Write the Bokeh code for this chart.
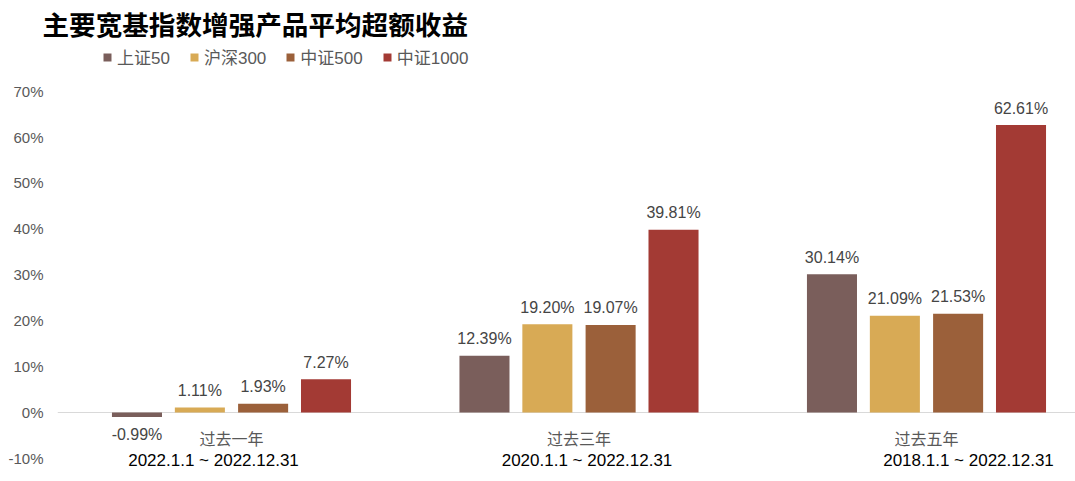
from bokeh.plotting import figure
from bokeh.models import ColumnDataSource, Legend, LegendItem, Span, Title, FixedTicker, NumeralTickFormatter
from bokeh.transform import dodge
from bokeh.core.properties import value
from bokeh.embed import file_html
from bokeh.resources import INLINE

periods = ["过去一年", "过去三年", "过去五年"]
date_ranges = ["2022.1.1 ~ 2022.12.31", "2020.1.1 ~ 2022.12.31", "2018.1.1 ~ 2022.12.31"]
series_names = ["上证50", "沪深300", "中证500", "中证1000"]
sz50 = [-0.0099, 0.1239, 0.3014]
hs300 = [0.0111, 0.1920, 0.2109]
zz500 = [0.0193, 0.1907, 0.2153]
zz1000 = [0.0727, 0.3981, 0.6261]
y_ticks = [-0.1, 0.0, 0.1, 0.2, 0.3, 0.4, 0.5, 0.6, 0.7]

colors = ["#7A5E5B", "#D8AA55", "#9B603A", "#A33A34"]
series = [sz50, hs300, zz500, zz1000]
offsets = [-0.272, -0.091, 0.091, 0.272]

NUM = "Liberation Sans, Noto Sans CJK SC"
CJK = "Noto Sans CJK SC"

p = figure(width=1075, height=481, output_backend="svg", toolbar_location=None,
           x_range=(-0.5007, 2.4288), y_range=(-0.1503, 0.8017),
           x_axis_location=None, min_border_left=57, min_border_right=0,
           min_border_top=44, min_border_bottom=0, outline_line_color=None)
p.xgrid.visible = False
p.ygrid.visible = False

p.add_layout(Span(location=0, dimension="width", line_color="#d9d9d9", line_width=1, level="underlay"), "center")

x = list(range(len(periods)))
items = []
for name, vals, col, off in zip(series_names, series, colors, offsets):
    labels = [f"{v*100:.2f}%" for v in vals]
    src = ColumnDataSource(dict(x=x, v=vals, lab=labels,
                                ly=[max(v, 0) for v in vals],
                                base=["alphabetic" if v >= 0 else "top" for v in vals],
                                yo=[-17 if v >= 0 else 13 for v in vals]))
    r = p.vbar(x=dodge("x", off), top="v", bottom=0, width=0.144, source=src,
               fill_color=col, line_color=None)
    p.text(x=dodge("x", off), y="ly", text="lab", source=src,
           text_align="center", text_baseline="base", y_offset="yo",
           text_font=value(NUM), text_font_size="16px", text_color="#454545")
    items.append(LegendItem(label=name, renderers=[r]))

csrc = ColumnDataSource(dict(x=x, t=periods, d=date_ranges, dx=[-18, 8, 42]))
p.text(x="x", y=-0.0545, text="t", source=csrc, text_align="center", text_baseline="middle",
       text_font=value(CJK), text_font_size="16px", text_color="#595959")
p.text(x="x", y=-0.1046, text="d", source=csrc, x_offset="dx", text_align="center",
       text_baseline="middle", text_font=value("Liberation Sans"),
       text_font_size="17px", text_color="#000000")

p.yaxis.ticker = FixedTicker(ticks=y_ticks)
p.yaxis.formatter = NumeralTickFormatter(format="0%")
p.yaxis.axis_line_color = None
p.yaxis.major_tick_line_color = None
p.yaxis.minor_tick_line_color = None
p.yaxis.major_tick_out = 0
p.yaxis.major_tick_in = 0
p.yaxis.major_label_standoff = 14
p.yaxis.major_label_text_font = NUM
p.yaxis.major_label_text_font_size = "15px"
p.yaxis.major_label_text_color = "#595959"

legend = Legend(items=items, orientation="horizontal", location=(45, 412),
                padding=0, margin=0, spacing=19, label_standoff=5,
                glyph_width=10, glyph_height=10, border_line_color=None,
                background_fill_alpha=0,
                label_text_font=NUM, label_text_font_size="17px", label_text_color="#595959")
p.add_layout(legend, "center")

p.add_layout(Title(text="主要宽基指数增强产品平均超额收益", align="left", offset=-15,
                   standoff=3, text_font=CJK, text_font_style="bold", text_font_size="26.6px",
                   text_color="#000000"), "above")

open("out.html", "w").write(file_html(p, INLINE))
